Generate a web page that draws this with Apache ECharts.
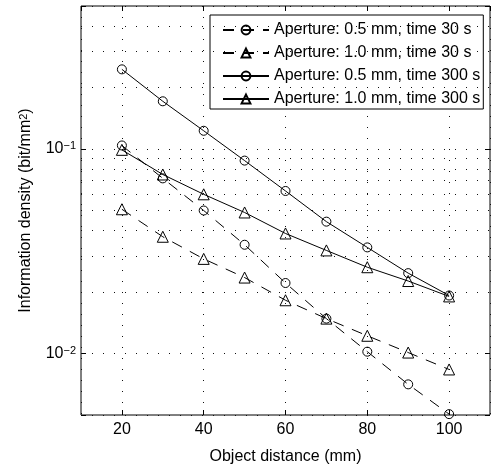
<!DOCTYPE html>
<html lang="en">
<head>
    <meta charset="UTF-8">
    <title>Information density</title>
    <script src="https://cdn.jsdelivr.net/npm/echarts@6/dist/echarts.min.js"></script>
    <style>
        html,body{margin:0;padding:0;background:#fff;}
        #chart{width:491px;height:470px;}
    </style>
</head>
<body>
<div id="chart"></div>
<script>
    'use strict';
    // object distance in mm
    var distances=[20,30,40,50,60,70,80,90,100];
    var names=[
        'Aperture: 0.5 mm, time 30 s',
        'Aperture: 1.0 mm, time 30 s',
        'Aperture: 0.5 mm, time 300 s',
        'Aperture: 1.0 mm, time 300 s'
    ];
    // information density in bit/mm^2
    var ap05t30=[0.104,0.0718,0.050,0.034,0.0221,0.0148,0.0102,0.00706,0.00505];
    var ap10t30=[0.0507,0.0372,0.029,0.0235,0.0182,0.0148,0.0122,0.0101,0.00835];
    var ap05t300=[0.245,0.171,0.1227,0.0877,0.0623,0.0441,0.0330,0.0247,0.0192];
    var ap10t300=[0.099,0.075,0.060,0.0489,0.0386,0.0319,0.0264,0.0226,0.019];
    // minor log grid lines
    var minorGrid=[0.006,0.007,0.008,0.009,0.02,0.03,0.04,0.05,0.06,0.07,0.08,0.09,0.2,0.3,0.4];

    var FONT='Liberation Sans';
    var dotted={color:'#111',width:1,type:[1,10]};

    function pairs(ys){
        return distances.map(function(x,i){return [x,ys[i]];});
    }
    function makeSeries(name,ys,symbol,dashed){
        return {
            name:name,
            type:'line',
            data:pairs(ys),
            symbol:symbol,
            symbolSize:symbol==='triangle'?11:9,
            lineStyle:{color:'#000',width:1,type:dashed?[11,9]:'solid'},
            itemStyle:{color:'rgba(255,255,255,0)',borderColor:'#000',borderWidth:1},
            emphasis:{disabled:true},
            z:3
        };
    }
    function decadeLabel(v){
        var l=Math.log10(v);
        var e=Math.round(l);
        if(Math.abs(l-e)>1e-6){
            return '';
        }
        return '{b|10}{sup|\u2212'+(-e)+'}';
    }

    var series=[
        makeSeries(names[0],ap05t30,'circle',true),
        makeSeries(names[1],ap10t30,'triangle',true),
        makeSeries(names[2],ap05t300,'circle',false),
        makeSeries(names[3],ap10t300,'triangle',false)
    ];
    series[0].markLine={
        silent:true,
        symbol:['none','none'],
        label:{show:false},
        lineStyle:dotted,
        animation:false,
        data:minorGrid.map(function(v){return {yAxis:v};})
    };

    var chart=echarts.init(document.getElementById('chart'));
    var option={
        animation:false,
        textStyle:{fontFamily:FONT},
        grid:{left:81,top:6,right:1,bottom:52,show:true,borderColor:'#000',borderWidth:1,backgroundColor:'#fff'},
        legend:{
            orient:'vertical',
            left:210,
            top:15,
            data:names,
            itemWidth:46,
            itemHeight:11,
            itemGap:7,
            padding:[7,3,2,12],
            borderColor:'#000',
            borderWidth:1,
            backgroundColor:'#fff',
            textStyle:{fontSize:16,color:'#000',fontFamily:FONT},
            selectedMode:false
        },
        xAxis:[{
            type:'value',
            min:10,
            max:110,
            splitNumber:5,
            name:'Object distance (mm)',
            nameLocation:'middle',
            nameGap:34,
            nameTextStyle:{fontSize:16,color:'#000',fontFamily:FONT},
            axisLine:{show:false},
            axisTick:{inside:true,length:5,lineStyle:{color:'#000'}},
            axisLabel:{fontSize:16,color:'#000',margin:7,showMinLabel:false,showMaxLabel:false,fontFamily:FONT},
            splitLine:{show:true,lineStyle:dotted}
        },{
            type:'value',
            position:'top',
            min:10,
            max:110,
            splitNumber:5,
            axisLine:{show:false},
            axisTick:{inside:true,length:5,lineStyle:{color:'#000'}},
            axisLabel:{show:false},
            splitLine:{show:false}
        }],
        yAxis:[{
            type:'log',
            logBase:10,
            min:0.005,
            max:0.5,
            name:'Information density (bit/mm{sup|2})',
            nameLocation:'middle',
            nameGap:47,
            nameTextStyle:{
                fontSize:16,color:'#000',fontFamily:FONT,
                rich:{sup:{fontSize:11,verticalAlign:'top',fontFamily:FONT,color:'#000'}}
            },
            axisLine:{show:false},
            axisTick:{inside:true,length:5,lineStyle:{color:'#000'}},
            axisLabel:{
                margin:5,
                formatter:decadeLabel,
                rich:{
                    b:{fontSize:16,color:'#000',fontFamily:FONT},
                    sup:{fontSize:11,color:'#000',fontFamily:FONT,verticalAlign:'top'}
                }
            },
            splitLine:{show:true,lineStyle:dotted}
        },{
            type:'log',
            logBase:10,
            min:0.005,
            max:0.5,
            position:'right',
            axisLine:{show:false},
            axisTick:{inside:true,length:5,lineStyle:{color:'#000'}},
            axisLabel:{show:false},
            splitLine:{show:false}
        }],
        series:series
    };
    chart.setOption(option);
</script>
</body>
</html>
